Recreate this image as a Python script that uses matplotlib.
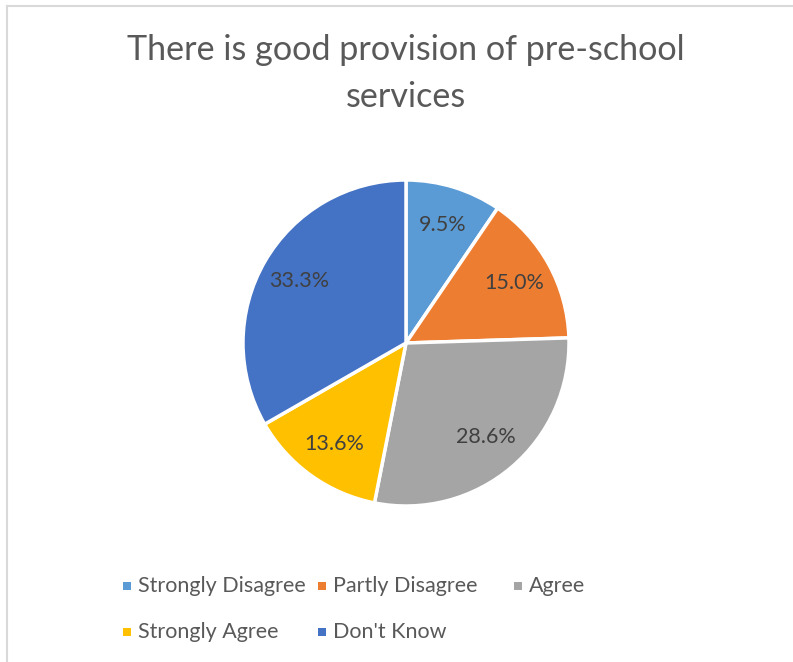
import numpy as np
import matplotlib.pyplot as plt
from matplotlib.patches import Rectangle
from matplotlib.lines import Line2D

categories = ["Strongly Disagree", "Partly Disagree", "Agree", "Strongly Agree", "Don't Know"]
shares = [9.5, 15.0, 28.6, 13.6, 33.3]
colors = ["#5B9BD5", "#ED7D31", "#A5A5A5", "#FFC000", "#4472C4"]

W, H = 793, 662
plt.rcParams['font.family'] = ['Lato', 'DejaVu Sans']

fig = plt.figure(figsize=(W / 100, H / 100), dpi=100)

# light border (top and left only visible in the crop)
fig.add_artist(Line2D([6.5 / W, 1], [1 - 5.5 / H, 1 - 5.5 / H], color="#D9D9D9", lw=1.5))
fig.add_artist(Line2D([6.5 / W, 6.5 / W], [0, 1 - 5.5 / H], color="#D9D9D9", lw=1.5))

# pie: centre (406, 343) px, radius 163 px
cx, cy, r = 406, 343, 163
ax = fig.add_axes([(cx - r) / W, (H - cy - r) / H, 2 * r / W, 2 * r / H])
wedges, texts, autotexts = ax.pie(
    shares, colors=colors, startangle=90, counterclock=False,
    autopct="%.1f%%", pctdistance=0.76,
    wedgeprops=dict(edgecolor="white", linewidth=2.5),
    textprops=dict(color="#404040", fontsize=15.5))
ax.set_xlim(-1, 1)
ax.set_ylim(-1, 1)
ax.axis("off")
for w in wedges:
    w.set_clip_on(False)

fig.text(cx / W, 1 - 50 / H, "There is good provision of pre-school",
         ha="center", va="center", fontsize=24.6, color="#595959")
fig.text(cx / W, 1 - 97 / H, "services",
         ha="center", va="center", fontsize=24.6, color="#595959")

# legend, laid out row by row in three equal columns
col_x = [127, 322, 518]
row_y = [586, 632]
for i, (name, c) in enumerate(zip(categories, colors)):
    x = col_x[i % 3]
    y = row_y[i // 3]
    fig.add_artist(Rectangle(((x - 4) / W, 1 - (y + 4) / H), 8 / W, 8 / H,
                             facecolor=c, edgecolor="none"))
    fig.text((x + 11) / W, 1 - y / H, name, ha="left", va="center",
             fontsize=15.5, color="#595959")

fig.savefig("out.png", dpi=100)
